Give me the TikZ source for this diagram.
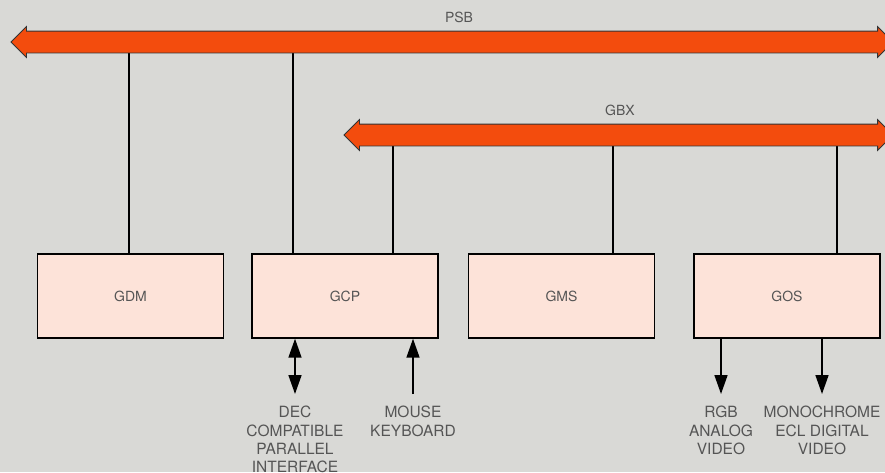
\documentclass[tikz,border=0pt]{standalone}
\usepackage{fontspec}
\setmainfont{TeX Gyre Heros}
\usetikzlibrary{shapes.arrows,arrows.meta,backgrounds}
\definecolor{paper}{HTML}{D9D9D6}
\definecolor{busred}{HTML}{F34C0D}
\definecolor{boxpink}{HTML}{FDE3D9}
\definecolor{inkgray}{HTML}{555555}
\tikzstyle{unit} = [draw, line width=1.4pt, fill=boxpink, minimum width=186pt, minimum height=84pt, text=inkgray, font=\fontsize{14}{17}\selectfont]
\tikzstyle{bus} = [double arrow, double arrow head extend=4.5pt, inner xsep=0pt, inner ysep=10.5pt, draw=black!80, line width=0.8pt, fill=busred]
\tikzstyle{busname} = [text=inkgray, font=\fontsize{14}{16}\selectfont]
\tikzstyle{io} = [text=inkgray, align=center, anchor=north, inner sep=0pt, font=\fontsize{15.5}{18.3}\selectfont]
\tikzstyle{tap} = [line width=1.4pt]
\tikzstyle{port} = [line width=1.6pt]

\begin{document}
\begin{tikzpicture}[x=1pt, y=-1pt, >={Triangle[length=19pt,width=13pt]}]
  \useasboundingbox (0,0) rectangle (885,472);
  \clip (0,0) rectangle (885,472);
  \begin{scope}[on background layer]
    \fill [paper] (0,0) rectangle (885,472);
  \end{scope}
  \node (psb) at (452,42) [bus, minimum height=882pt] {};
  \node (gbx) at (618.5,135) [bus, minimum height=549pt] {};
  \node (psbname) at (459,17) [busname] {PSB};
  \node (gbxname) at (620,110) [busname] {GBX};
  \node (gdm) at (130.5,296) [unit] {GDM};
  \node (gcp) at (345,296) [unit] {GCP};
  \node (gms) at (561.5,296) [unit] {GMS};
  \node (gos) at (787,296) [unit] {GOS};
  \node (dec) at (295,406) [io] {DEC\\COMPATIBLE\\PARALLEL\\INTERFACE};
  \node (mouse) at (413,406) [io] {MOUSE\\KEYBOARD};
  \node (rgb) at (721,406) [io] {RGB\\ANALOG\\VIDEO};
  \node (mono) at (822,406) [io] {MONOCHROME\\ECL DIGITAL\\VIDEO};
  \begin{scope}[on background layer]
    \draw [tap] (gdm.north -| 129,0) -- (129,0 |- psb.center);
    \draw [tap] (gcp.north -| 293,0) -- (293,0 |- psb.center);
    \draw [tap] (gcp.north -| 393,0) -- (393,0 |- gbx.center);
    \draw [tap] (gms.north -| 613,0) -- (613,0 |- gbx.center);
    \draw [tap] (gos.north -| 837,0) -- (837,0 |- gbx.center);
  \end{scope}
  \draw [port, <->] (gcp.south -| dec.north) -- ([yshift=12pt]dec.north);
  \draw [port, ->] ([yshift=12pt]mouse.north) -- (gcp.south -| mouse.north);
  \draw [port, ->] (gos.south -| rgb.north) -- ([yshift=12pt]rgb.north);
  \draw [port, ->] (gos.south -| mono.north) -- ([yshift=12pt]mono.north);
\end{tikzpicture}
\end{document}
